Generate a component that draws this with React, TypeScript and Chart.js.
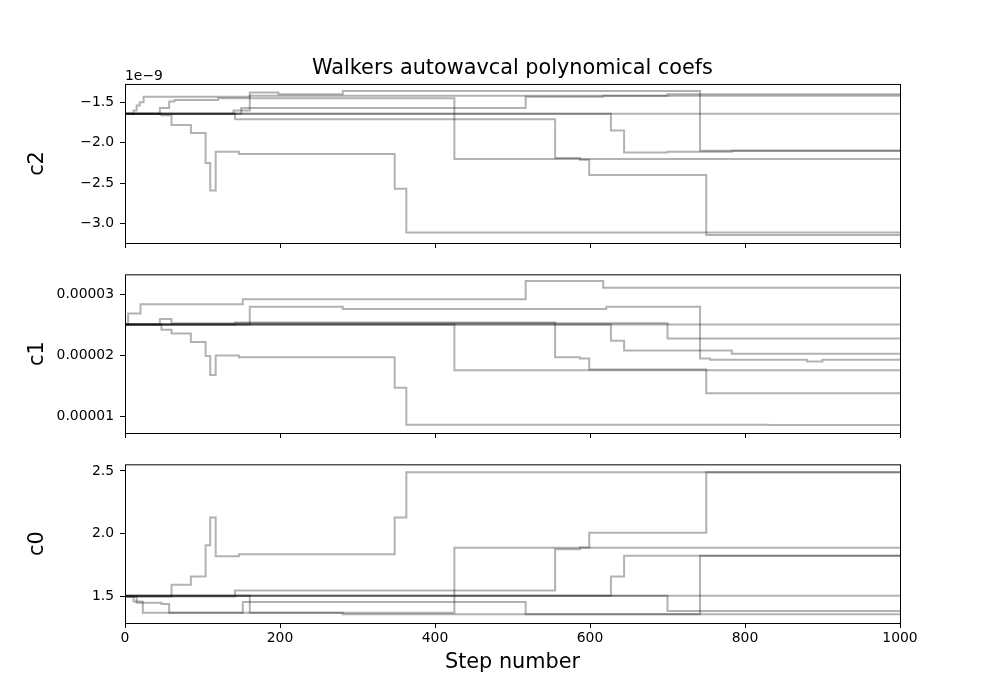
import { useEffect, useRef } from 'react'
import { Chart, registerables } from 'chart.js'

Chart.register(...registerables)

// Each walker is a list of [step, value] breakpoints; the value holds until the next one
// c2 is kept in units of 1e-9 (the axis shows the "1e−9" offset like matplotlib)
const c2Walkers: [number, number][][] = [
	[[0, -1.64], [47, -1.66], [60, -1.78], [85, -1.88], [104, -2.25], [110, -2.59], [117, -2.11], [147, -2.14], [348, -2.57], [363, -3.11], [1000, -3.11]],
	[[0, -1.64], [142, -1.71], [555, -2.19], [587, -2.21], [599, -2.4], [750, -3.14], [1000, -3.14]],
	[[0, -1.64], [627, -1.85], [644, -2.12], [700, -2.11], [783, -2.1], [1000, -2.09]],
	[[0, -1.64], [11, -1.6], [15, -1.54], [19, -1.5], [24, -1.43], [161, -1.38], [198, -1.4], [281, -1.36], [742, -2.1], [1000, -2.08]],
	[[0, -1.64], [45, -1.57], [57, -1.49], [64, -1.47], [120, -1.45], [425, -2.2], [1000, -2.21]],
	[[0, -1.64], [150, -1.57], [517, -1.43], [617, -1.42], [1000, -1.42]],
	[[0, -1.64], [1000, -1.64]],
	[[0, -1.64], [140, -1.6], [161, -1.42], [700, -1.4], [1000, -1.4]]
]

const c1Walkers: [number, number][][] = [
	[[0, 2.51e-5], [47, 2.42e-5], [60, 2.36e-5], [85, 2.22e-5], [104, 1.99e-5], [110, 1.68e-5], [117, 2.0e-5], [147, 1.97e-5], [348, 1.47e-5], [363, 0.865e-5], [830, 0.86e-5], [1000, 0.86e-5]],
	[[0, 2.51e-5], [142, 2.54e-5], [555, 1.97e-5], [587, 1.95e-5], [599, 1.77e-5], [750, 1.38e-5], [1000, 1.38e-5]],
	[[0, 2.51e-5], [627, 2.24e-5], [644, 2.08e-5], [783, 2.03e-5], [1000, 2.04e-5]],
	[[0, 2.51e-5], [161, 2.8e-5], [281, 2.76e-5], [621, 2.8e-5], [742, 1.95e-5], [755, 1.93e-5], [880, 1.9e-5], [900, 1.93e-5], [1000, 1.93e-5]],
	[[0, 2.51e-5], [425, 1.76e-5], [1000, 1.76e-5]],
	[[0, 2.51e-5], [4, 2.69e-5], [20, 2.84e-5], [152, 2.92e-5], [517, 3.22e-5], [617, 3.11e-5], [1000, 3.11e-5]],
	[[0, 2.51e-5], [1000, 2.51e-5]],
	[[0, 2.51e-5], [45, 2.6e-5], [60, 2.53e-5], [700, 2.28e-5], [1000, 2.28e-5]]
]

const c0Walkers: [number, number][][] = [
	[[0, 1.5], [60, 1.593], [85, 1.659], [104, 1.908], [110, 2.13], [117, 1.82], [147, 1.836], [348, 2.13], [363, 2.49], [1000, 2.49]],
	[[0, 1.5], [142, 1.548], [555, 1.876], [587, 1.89], [599, 2.008], [750, 2.49], [1000, 2.49]],
	[[0, 1.506], [627, 1.66], [644, 1.825], [1000, 1.825]],
	[[0, 1.506], [161, 1.37], [281, 1.358], [742, 1.825], [1000, 1.825]],
	[[0, 1.5], [15, 1.45], [47, 1.44], [57, 1.37], [425, 1.888], [1000, 1.888]],
	[[0, 1.5], [11, 1.46], [23, 1.37], [152, 1.456], [517, 1.358], [1000, 1.358]],
	[[0, 1.506], [1000, 1.506]],
	[[0, 1.506], [700, 1.384], [1000, 1.384]]
]

const xTicks = [0, 200, 400, 600, 800, 1000]
const c2Ticks = [-3.0, -2.5, -2.0, -1.5]
const c1Ticks = [0.00001, 0.00002, 0.00003]
const c0Ticks = [1.5, 2.0, 2.5]

const chartTitle = 'Walkers autowavcal polynomical coefs'
const xLabel = 'Step number'

const FONT = 'DejaVu Sans'
const LABEL_SIZE = 20.8
const TICK_SIZE = 13.9

// frame around the plot area + optional offset text ("1e−9") in the top-left corner
const framePlugin = {
	id: 'frame',
	afterDraw(chart: any, _args: any, opts: any) {
		const { ctx, chartArea: a } = chart
		ctx.save()
		ctx.strokeStyle = '#000'
		ctx.lineWidth = 1
		ctx.strokeRect(a.left + 0.5, a.top + 0.5, a.right - a.left, a.bottom - a.top)
		if (opts && opts.offsetText) {
			ctx.fillStyle = '#000'
			ctx.font = `${TICK_SIZE}px "${FONT}"`
			ctx.textAlign = 'left'
			ctx.textBaseline = 'alphabetic'
			ctx.fillText(opts.offsetText, a.left, a.top - 3.5)
		}
		ctx.restore()
	}
}

type PanelProps = {
	walkers: [number, number][][]
	yTicks: number[]
	yMin: number
	yMax: number
	label: string
	fmt: (v: number) => string
	top: number
	height: number
	padTop: number
	xHeight: number
	showTitle?: boolean
	showX?: boolean
	offsetText?: string
}

function Panel(p: PanelProps) {
	const canvasRef = useRef<HTMLCanvasElement | null>(null)

	useEffect(() => {
		if (!canvasRef.current) return
		const datasets = p.walkers.map((w) => ({
			data: w.map(([x, y]) => ({ x, y })),
			borderColor: 'rgba(0,0,0,0.3)',
			borderWidth: 2,
			pointRadius: 0,
			stepped: 'before' as const,
			fill: false
		}))

		const chart = new Chart(canvasRef.current, {
			type: 'line',
			data: { datasets },
			plugins: [framePlugin],
			options: {
				responsive: false,
				animation: false,
				events: [],
				layout: { padding: { top: p.padTop, left: 0, right: 100, bottom: 0 } },
				scales: {
					x: {
						type: 'linear',
						min: 0,
						max: 1000,
						afterBuildTicks: (s: any) => {
							s.ticks = xTicks.map((value) => ({ value }))
						},
						afterFit: (s: any) => {
							s.height = p.xHeight
						},
						grid: { drawOnChartArea: false, tickLength: 5, color: '#000', tickColor: '#000' },
						border: { display: false },
						ticks: {
							display: !!p.showX,
							color: '#000',
							padding: 2,
							maxRotation: 0,
							font: { family: FONT, size: TICK_SIZE },
							callback: (v: any) => String(v)
						},
						title: {
							display: !!p.showX,
							text: xLabel,
							color: '#000',
							font: { family: FONT, size: LABEL_SIZE },
							padding: { top: 0, bottom: 25 }
						}
					},
					y: {
						type: 'linear',
						min: p.yMin,
						max: p.yMax,
						afterBuildTicks: (s: any) => {
							s.ticks = p.yTicks.map((value) => ({ value }))
						},
						afterFit: (s: any) => {
							s.width = 125
						},
						grid: { drawOnChartArea: false, tickLength: 5, color: '#000', tickColor: '#000' },
						border: { display: false },
						ticks: {
							color: '#000',
							padding: 6,
							font: { family: FONT, size: TICK_SIZE },
							callback: (v: any) => p.fmt(Number(v))
						},
						title: {
							display: true,
							text: p.label,
							color: '#000',
							font: { family: FONT, size: LABEL_SIZE },
							padding: { top: 25, bottom: 0 }
						}
					}
				},
				plugins: {
					legend: { display: false },
					tooltip: { enabled: false },
					title: {
						display: !!p.showTitle,
						text: chartTitle,
						fullSize: false,
						color: '#000',
						font: { family: FONT, size: LABEL_SIZE, weight: 'normal' },
						padding: { top: 0, bottom: 3 }
					},
					// @ts-ignore
					frame: { offsetText: p.offsetText }
				}
			}
		})

		return () => {
			chart.destroy()
		}
	}, [])

	return (
		<canvas
			ref={canvasRef}
			width={1000}
			height={p.height}
			style={{ position: 'absolute', left: 0, top: p.top, width: 1000, height: p.height }}
		/>
	)
}

const minus = (s: string) => s.replace('-', '\u2212')

export default function App() {
	return (
		<div style={{ position: 'absolute', left: 0, top: 0, width: 1000, height: 700, background: '#fff' }}>
			<Panel
				walkers={c2Walkers}
				yTicks={c2Ticks}
				yMin={-3.24}
				yMax={-1.273}
				label="c2"
				fmt={(v) => minus(v.toFixed(1))}
				top={0}
				height={260}
				padTop={56}
				xHeight={17}
				showTitle
				offsetText={'1e\u22129'}
			/>
			<Panel
				walkers={c1Walkers}
				yTicks={c1Ticks}
				yMin={0.73e-5}
				yMax={3.33e-5}
				label="c1"
				fmt={(v) => v.toFixed(5)}
				top={260}
				height={190}
				padTop={14}
				xHeight={17}
			/>
			<Panel
				walkers={c0Walkers}
				yTicks={c0Ticks}
				yMin={1.289}
				yMax={2.553}
				label="c0"
				fmt={(v) => v.toFixed(1)}
				top={450}
				height={250}
				padTop={14}
				xHeight={77}
				showX
			/>
		</div>
	)
}
